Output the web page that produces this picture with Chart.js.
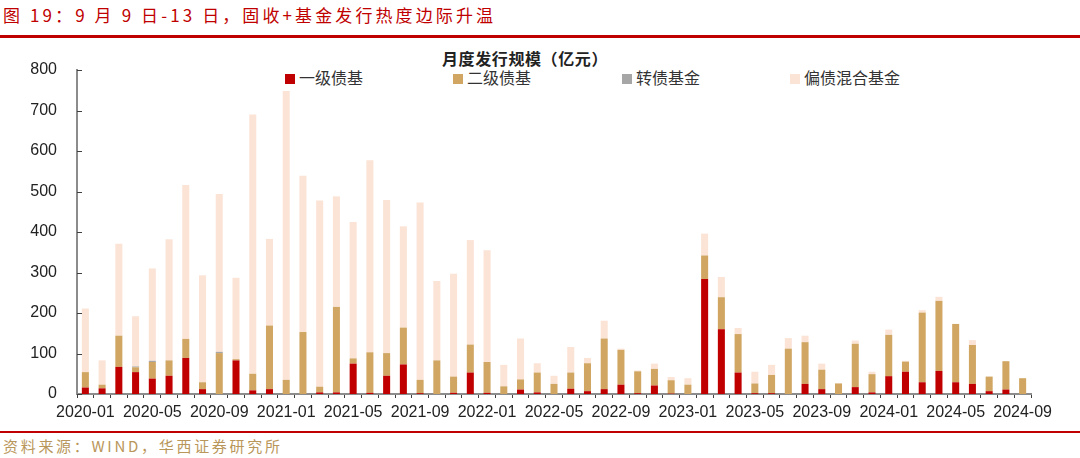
<!DOCTYPE html>
<html>
<head>
<meta charset="utf-8">
<script src="https://cdn.jsdelivr.net/npm/chart.js@4.4.0/dist/chart.umd.min.js"></script>
<style>
    body { margin: 0; background: #fff; font-family: "Noto Sans CJK SC", sans-serif; }
    #page { position: relative; width: 1080px; height: 458px; overflow: hidden; }
    #header { position: absolute; left: 3px; top: 3px; font-size: 17px; color: #c00000; letter-spacing: 3.1px; white-space: nowrap; line-height: 24px; }
    #topLine { position: absolute; left: 0; top: 35px; width: 1080px; height: 3px; background: #c00000; }
    #chartTitle { position: absolute; left: 442px; top: 46px; font-size: 16px; font-weight: bold; color: #222; white-space: nowrap; line-height: 24px; letter-spacing: 0.6px; }
    .legendItem { position: absolute; top: 66px; font-size: 16px; color: #333; white-space: nowrap; line-height: 22px; }
    .legendItem span { display: inline-block; width: 10px; height: 10px; margin-right: 4px; vertical-align: 0px; }
    #chartBox { position: absolute; left: 0; top: 40px; width: 1080px; height: 388px; }
    #bottomLine { position: absolute; left: 0; top: 431px; width: 1080px; height: 2px; background: #c00000; }
    #footer { position: absolute; left: 3px; top: 435px; font-size: 15px; color: #b9965a; letter-spacing: 2.7px; white-space: nowrap; line-height: 22px; }
</style>
</head>
<body>
<div id="page">
    <div id="header">图 19：9 月 9 日-13 日，固收+基金发行热度边际升温</div>
    <div id="topLine"></div>
    <div id="chartTitle">月度发行规模（亿元）</div>
    <div id="legend"></div>
    <div id="chartBox"><canvas id="barChart" width="1080" height="388"></canvas></div>
    <div id="bottomLine"></div>
    <div id="footer">资料来源：WIND，华西证券研究所</div>
</div>
<script>
// months 2020-01 .. 2024-09
var months = [
    '2020-01','2020-02','2020-03','2020-04','2020-05','2020-06','2020-07','2020-08','2020-09','2020-10','2020-11','2020-12',
    '2021-01','2021-02','2021-03','2021-04','2021-05','2021-06','2021-07','2021-08','2021-09','2021-10','2021-11','2021-12',
    '2022-01','2022-02','2022-03','2022-04','2022-05','2022-06','2022-07','2022-08','2022-09','2022-10','2022-11','2022-12',
    '2023-01','2023-02','2023-03','2023-04','2023-05','2023-06','2023-07','2023-08','2023-09','2023-10','2023-11','2023-12',
    '2024-01','2024-02','2024-03','2024-04','2024-05','2024-06','2024-07','2024-08','2024-09'
];

// 一级债基 (亿元)
var primaryBond = [
    16, 14, 67, 54, 38, 45, 89, 12, 0, 83, 9, 12,
    0, 0, 4, 4, 75, 3, 45, 73, 2, 0, 3, 53,
    3, 0, 11, 4, 0, 13, 7, 12, 23, 2, 21, 1,
    0, 284, 160, 53, 2, 2, 0, 25, 12, 0, 17, 4,
    44, 55, 29, 57, 29, 25, 7, 11, 0
];

// 二级债基
var secondaryBond = [
    38, 9, 77, 12, 41, 38, 47, 17, 101, 3, 41, 157,
    35, 153, 14, 211, 13, 100, 56, 91, 33, 83, 40, 69,
    76, 19, 25, 49, 25, 40, 69, 125, 86, 54, 41, 33,
    23, 58, 79, 95, 24, 45, 112, 103, 48, 26, 107, 45,
    102, 25, 172, 173, 144, 96, 36, 70, 39
];

// 转债基金
var convertibleFund = [
    0, 0, 0, 2, 3, 0, 0, 0, 3, 0, 0, 0,
    0, 0, 0, 0, 0, 0, 0, 0, 0, 0, 0, 0,
    0, 0, 0, 0, 0, 0, 0, 0, 0, 0, 0, 0,
    0, 0, 0, 0, 0, 0, 0, 0, 0, 0, 0, 0,
    0, 0, 0, 0, 0, 0, 0, 0, 0
];

// 偏债混合基金
var mixedBond = [
    157, 60, 227, 124, 228, 299, 380, 264, 390, 201, 640, 214,
    713, 386, 460, 273, 337, 474, 378, 250, 438, 196, 254, 258,
    276, 53, 101, 23, 20, 63, 13, 44, 3, 2, 13, 8,
    16, 54, 50, 15, 29, 25, 26, 16, 15, 1, 8, 6,
    13, 2, 6, 10, 0, 12, 0, 0, 0
];

var seriesNames = ['一级债基', '二级债基', '转债基金', '偏债混合基金'];
var seriesColors = ['#c00000', '#d0a662', '#a6a6a6', '#fbe3d6'];
var legendLeft = [285, 453, 622, 790];

var yTicks = [0, 100, 200, 300, 400, 500, 600, 700, 800];

// legend
var legendBox = document.getElementById('legend');
for (var i = 0; i < seriesNames.length; i++) {
    var item = document.createElement('div');
    item.className = 'legendItem';
    item.style.left = legendLeft[i] + 'px';
    item.innerHTML = '<span style="background:' + seriesColors[i] + '"></span>' + seriesNames[i];
    legendBox.appendChild(item);
}

// small inward ticks on the y axis
var yAxisTicks = {
    id: 'yAxisTicks',
    afterDraw: function (chart) {
        var ctx = chart.ctx;
        var y = chart.scales.y;
        ctx.save();
        ctx.strokeStyle = '#404040';
        ctx.lineWidth = 1;
        for (var i = 0; i < yTicks.length; i++) {
            var py = Math.round(y.getPixelForValue(yTicks[i])) + 0.5;
            ctx.beginPath();
            ctx.moveTo(y.right, py);
            ctx.lineTo(y.right + 5, py);
            ctx.stroke();
        }
        ctx.restore();
    }
};

//-------------
//- BAR CHART -
//-------------
var barData = {
    labels: months,
    datasets: [
        { label: seriesNames[0], data: primaryBond, backgroundColor: seriesColors[0] },
        { label: seriesNames[1], data: secondaryBond, backgroundColor: seriesColors[1] },
        { label: seriesNames[2], data: convertibleFund, backgroundColor: seriesColors[2] },
        { label: seriesNames[3], data: mixedBond, backgroundColor: seriesColors[3] }
    ]
};

var barOptions = {
    responsive: false,
    animation: false,
    maintainAspectRatio: false,
    layout: { padding: { left: 0, right: 49, top: 30, bottom: 0 } },
    datasets: {
        bar: { barPercentage: 0.42, categoryPercentage: 1.0 }
    },
    plugins: {
        legend: { display: false },
        title: { display: false },
        tooltip: { enabled: false }
    },
    scales: {
        x: {
            stacked: true,
            afterFit: function (scale) { scale.height = 34; },
            grid: {
                display: true,
                offset: true,
                drawOnChartArea: false,
                drawTicks: true,
                tickLength: 4,
                color: '#404040'
            },
            border: { display: true, color: '#8c8c8c', width: 2 },
            ticks: {
                autoSkip: false,
                maxRotation: 0,
                minRotation: 0,
                padding: 5,
                color: '#222',
                font: { family: 'Liberation Sans, Arial, sans-serif', size: 16 },
                callback: function (val, index) {
                    return index % 4 === 0 ? months[index] : '';
                }
            }
        },
        y: {
            stacked: true,
            min: 0,
            max: 800,
            afterFit: function (scale) { scale.width = 77; },
            grid: { display: false, drawTicks: false },
            border: { display: true, color: '#8c8c8c', width: 2 },
            ticks: {
                stepSize: 100,
                padding: 20,
                color: '#222',
                font: { family: 'Liberation Sans, Arial, sans-serif', size: 16 }
            }
        }
    }
};

var barChartCanvas = document.getElementById('barChart').getContext('2d');
var barChart = new Chart(barChartCanvas, {
    type: 'bar',
    data: barData,
    options: barOptions,
    plugins: [yAxisTicks]
});
</script>
</body>
</html>
